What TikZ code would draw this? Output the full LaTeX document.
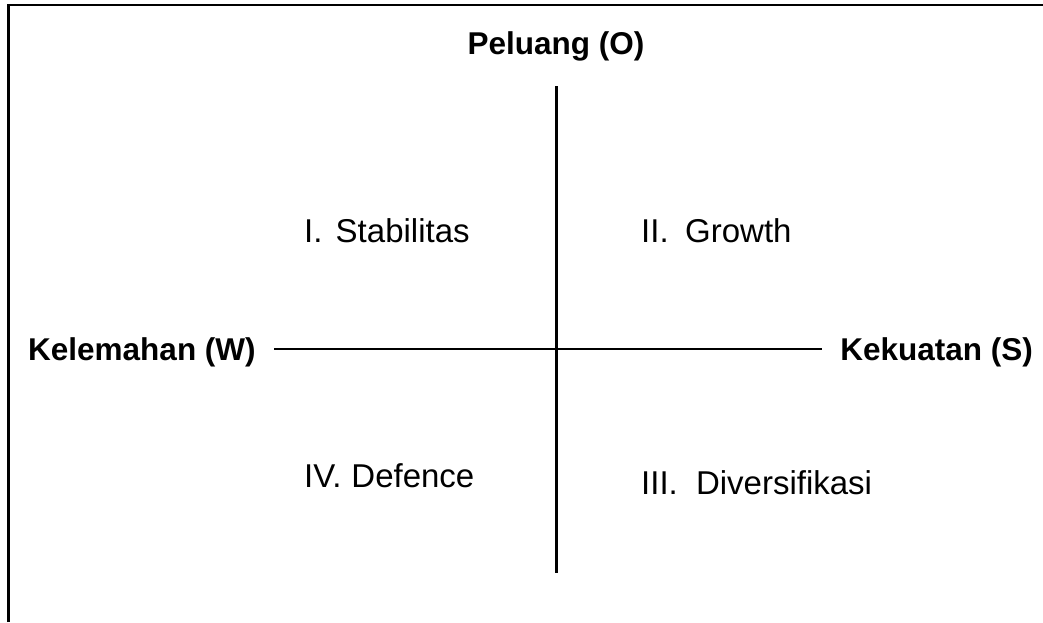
\documentclass[tikz,border=0pt]{standalone}
\usepackage{fontspec}
\setmainfont{Liberation Sans}
\begin{document}
\begin{tikzpicture}[x=1pt,y=-1pt,
  lbl/.style={font=\fontsize{31.5}{36}\selectfont\bfseries, inner sep=0pt, anchor=base},
  quad/.style={font=\fontsize{33}{38}\selectfont, inner sep=0pt, anchor=base west},
  ax/.style={line width=2.4pt}]
\useasboundingbox (0,0) rectangle (1043,622);
\draw[line width=2.2pt] (8.5,622) -- (8.5,5) -- (1043,5);
\node[lbl] (o) at (556,54) {Peluang (O)};
\node[lbl,anchor=base west] (w) at (28,360) {Kelemahan (W)};
\node[lbl,anchor=base east] (s) at (1033,360) {Kekuatan (S)};
\coordinate (vt) at (556.5,86);
\coordinate (vb) at (556.5,573);
\coordinate (hl) at (274,349);
\coordinate (hr) at (822,349);
\draw[ax] (vt) -- (vb);
\draw[ax] (hl) -- (hr);
\node[quad] (q1) at (304,242) {I.\hspace{0.4em}Stabilitas};
\node[quad] (q2) at (641,242) {II.\hspace{0.5em}Growth};
\node[quad] (q4) at (304,487) {IV.\hspace{0.3em}Defence};
\node[quad] (q3) at (641,494) {III.\hspace{0.55em}Diversifikasi};
\end{tikzpicture}
\end{document}
